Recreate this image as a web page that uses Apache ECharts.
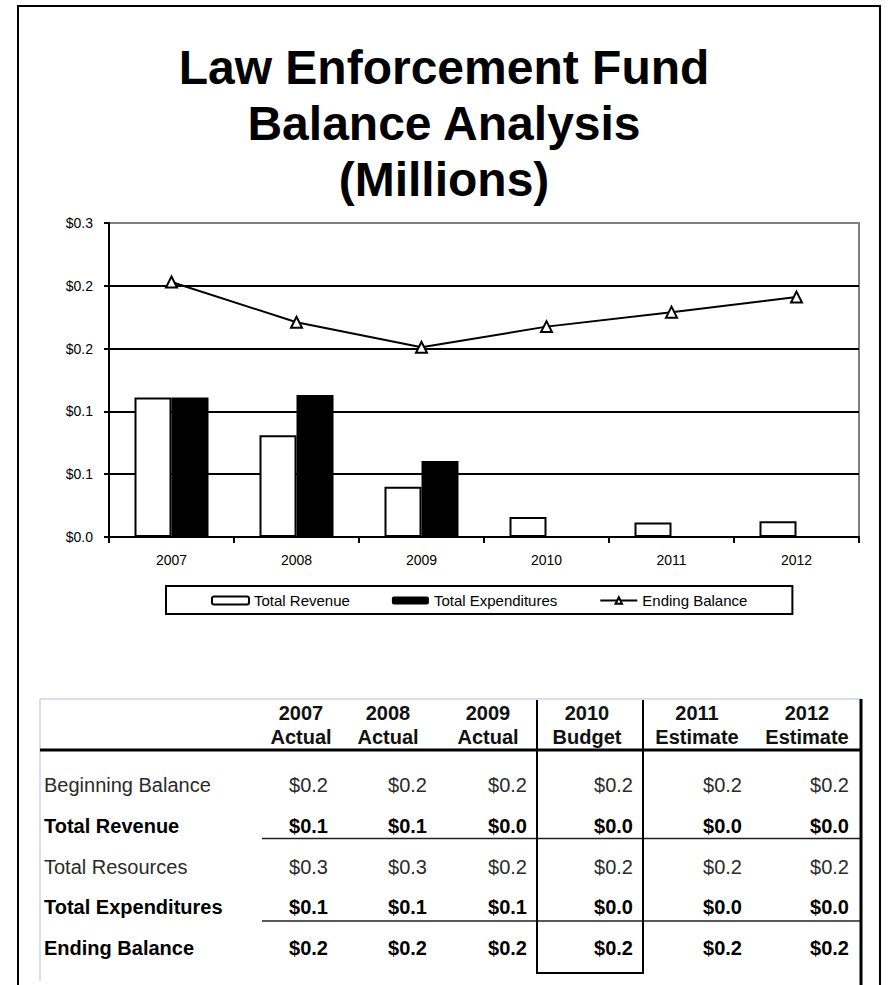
<!DOCTYPE html>
<html><head><meta charset="utf-8">
<script src="https://cdn.jsdelivr.net/npm/echarts@6/dist/echarts.min.js"></script>
<style>html,body{margin:0;padding:0;background:#fff}#c{width:888px;height:985px}</style>
</head><body><div id="c"></div>
<script>
// ---- chart data (millions) ----
const years = ['2007', '2008', '2009', '2010', '2011', '2012'];
const totalRevenue = [0.111, 0.081, 0.040, 0.016, 0.0115, 0.0125];
const totalExpenditures = [0.111, 0.113, 0.0605, 0, 0, 0];
const endingBalance = [0.203, 0.171, 0.151, 0.1675, 0.179, 0.191];
const yTickValues = [0, 0.05, 0.1, 0.15, 0.2, 0.25];
const yTickLabels = ['$0.0', '$0.1', '$0.1', '$0.2', '$0.2', '$0.3'];

// ---- table data ----
const tableHeadYear = ['2007', '2008', '2009', '2010', '2011', '2012'];
const tableHeadType = ['Actual', 'Actual', 'Actual', 'Budget', 'Estimate', 'Estimate'];
const tableRowLabels = ['Beginning Balance', 'Total Revenue', 'Total Resources', 'Total Expenditures', 'Ending Balance'];
const tableRowBold = [false, true, false, true, true];
const rowBeginning = ['$0.2', '$0.2', '$0.2', '$0.2', '$0.2', '$0.2'];
const rowRevenue = ['$0.1', '$0.1', '$0.0', '$0.0', '$0.0', '$0.0'];
const rowResources = ['$0.3', '$0.3', '$0.2', '$0.2', '$0.2', '$0.2'];
const rowExpenditures = ['$0.1', '$0.1', '$0.1', '$0.0', '$0.0', '$0.0'];
const rowEnding = ['$0.2', '$0.2', '$0.2', '$0.2', '$0.2', '$0.2'];
const tableRows = [rowBeginning, rowRevenue, rowResources, rowExpenditures, rowEnding];

const FONT = "'Liberation Sans', Arial, sans-serif";

// ---- table layout ----
const colRight = [328, 427, 527, 633, 742, 849];
const colCenter = [301, 388, 488, 587, 697, 807];
const rowY = [785, 826, 867, 907, 948];
const graphics = [];
// page border
graphics.push({type: 'rect', shape: {x: 18, y: 6, width: 862, height: 1010},
  style: {fill: 'none', stroke: '#000', lineWidth: 2}, silent: true});
// table frame lines
graphics.push({type: 'line', shape: {x1: 40, y1: 699, x2: 861, y2: 699}, style: {stroke: '#cdd5e4', lineWidth: 1.5}});
graphics.push({type: 'line', shape: {x1: 40, y1: 699, x2: 40, y2: 981}, style: {stroke: '#cdd5e4', lineWidth: 1.5}});
graphics.push({type: 'line', shape: {x1: 40, y1: 750, x2: 861, y2: 750}, style: {stroke: '#000', lineWidth: 3}});
graphics.push({type: 'line', shape: {x1: 262, y1: 838.5, x2: 861, y2: 838.5}, style: {stroke: '#222', lineWidth: 1.5}});
graphics.push({type: 'line', shape: {x1: 262, y1: 921, x2: 861, y2: 921}, style: {stroke: '#222', lineWidth: 1.5}});
graphics.push({type: 'line', shape: {x1: 861, y1: 699, x2: 861, y2: 990}, style: {stroke: '#000', lineWidth: 3}});
// budget box
graphics.push({type: 'polyline', shape: {points: [[537, 700], [537, 973], [643, 973], [643, 700]]},
  style: {stroke: '#000', lineWidth: 2, fill: 'none'}});
// headers
tableHeadYear.forEach((t, i) => {
  graphics.push({type: 'text', style: {text: t, x: colCenter[i], y: 713, fill: '#111',
    font: 'bold 20px ' + FONT, textAlign: 'center', textVerticalAlign: 'middle'}});
  graphics.push({type: 'text', style: {text: tableHeadType[i], x: colCenter[i], y: 737, fill: '#111',
    font: 'bold 20px ' + FONT, textAlign: 'center', textVerticalAlign: 'middle'}});
});
// rows
tableRowLabels.forEach((lab, r) => {
  const bold = tableRowBold[r];
  const f = (bold ? 'bold ' : '') + '20px ' + FONT;
  const col = bold ? '#000' : '#2a2a2a';
  graphics.push({type: 'text', style: {text: lab, x: 44, y: rowY[r], fill: col, font: f,
    textAlign: 'left', textVerticalAlign: 'middle'}});
  tableRows[r].forEach((v, c) => {
    graphics.push({type: 'text', style: {text: v, x: colRight[c], y: rowY[r], fill: col, font: f,
      textAlign: 'right', textVerticalAlign: 'middle'}});
  });
});

const chart = echarts.init(document.getElementById('c'), null, {renderer: 'svg'});
chart.setOption({
  animation: false,
  backgroundColor: '#fff',
  title: {
    text: 'Law Enforcement Fund\nBalance Analysis\n(Millions)',
    left: 'center', top: 39, padding: 0,
    textStyle: {fontFamily: FONT, fontSize: 48, fontWeight: 'bold', color: '#000', lineHeight: 56}
  },
  legend: {
    left: 166, top: 586,
    padding: [7, 45, 6, 45],
    borderColor: '#000', borderWidth: 2,
    itemGap: 42, itemWidth: 37, itemHeight: 8,
    textStyle: {fontFamily: FONT, fontSize: 15, color: '#000'},
    data: ['Total Revenue', 'Total Expenditures', 'Ending Balance']
  },
  grid: {
    left: 109, right: 29, top: 223, bottom: 448,
    show: true, borderColor: '#808080', borderWidth: 2, containLabel: false
  },
  xAxis: {
    type: 'category', data: years,
    axisLine: {lineStyle: {color: '#000', width: 2}},
    axisTick: {show: true, length: 6, lineStyle: {color: '#000', width: 2}},
    axisLabel: {fontFamily: FONT, fontSize: 14, color: '#000', margin: 16}
  },
  yAxis: {
    type: 'value', min: 0, max: 0.25, interval: 0.05,
    axisLine: {show: true, lineStyle: {color: '#000', width: 2}},
    axisTick: {show: true, length: 5, lineStyle: {color: '#000', width: 2}},
    axisLabel: {fontFamily: FONT, fontSize: 14, color: '#000', margin: 16,
      formatter: v => yTickLabels[Math.round(v / 0.05)]},
    splitLine: {show: true, lineStyle: {color: ['#000', '#000', '#000', '#000', '#000', '#808080'], width: 2}}
  },
  series: [
    {name: 'Total Revenue', type: 'bar', data: totalRevenue, barWidth: 37, barGap: '0%',
      itemStyle: {color: '#fff', borderColor: '#000', borderWidth: 2}},
    {name: 'Total Expenditures', type: 'bar', data: totalExpenditures, barWidth: 37,
      itemStyle: {color: '#000', borderColor: '#000', borderWidth: 0}},
    {name: 'Ending Balance', type: 'line', data: endingBalance, symbol: 'triangle', symbolSize: 11,
      z: 5, lineStyle: {color: '#000', width: 2},
      itemStyle: {color: '#fff', borderColor: '#000', borderWidth: 2}}
  ],
  graphic: graphics
});
</script>
</body></html>
